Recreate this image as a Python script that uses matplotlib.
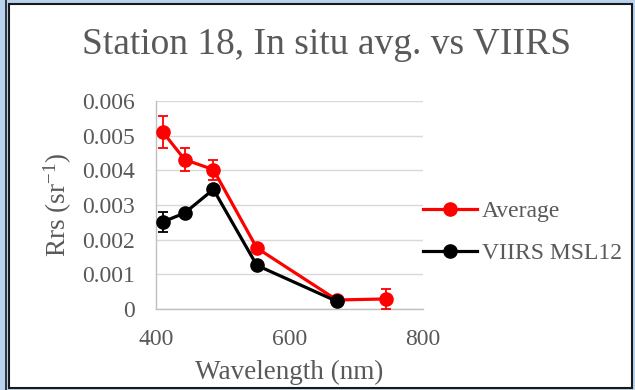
import matplotlib

matplotlib.use("Agg")
import matplotlib.pyplot as plt
from matplotlib.lines import Line2D
from matplotlib.patches import Rectangle

# values
wavelength_avg = [410, 443, 486, 551, 671, 745]
rrs_avg = [0.00511, 0.00431, 0.00402, 0.00176, 0.00026, 0.00029]
err_avg = [0.00047, 0.00032, 0.00029, 0.00010, 0.00005, 0.00028]

wavelength_viirs = [410, 443, 486, 551, 671]
rrs_viirs = [0.00251, 0.00277, 0.00345, 0.00126, 0.00022]
err_viirs = [0.00028, 0.00010, 0.00010, 0.00005, 0.00003]

TEXT = "#595959"
plt.rcParams["font.family"] = ["Liberation Serif", "DejaVu Serif"]
plt.rcParams["mathtext.fontset"] = "custom"
plt.rcParams["mathtext.rm"] = "Liberation Serif"
plt.rcParams["mathtext.it"] = "Liberation Serif:italic"

fig = plt.figure(figsize=(6.35, 3.9), dpi=100)
fig.patch.set_facecolor("#b9d3ee")

# window frame around the chart
fig.patches.append(Rectangle((9 / 635, 2 / 390), 623 / 635, 384 / 390,
                             transform=fig.transFigure, facecolor="white",
                             edgecolor="#1a1a1a", lw=1.5, zorder=-1))
fig.lines.append(Line2D([6 / 635, 6 / 635], [0, 1], transform=fig.transFigure,
                        color="#1a1a1a", lw=1.2, zorder=-1))

ax = fig.add_axes([156 / 635, 81 / 390, 267 / 635, 208 / 390])
ax.set_facecolor("none")

style = dict(lw=2.3, marker="o", markersize=9.5, capsize=3.5,
             elinewidth=1.3, capthick=1.3)
ax.errorbar(wavelength_avg, rrs_avg, yerr=err_avg, color="#ff0000",
            zorder=3, **style)
ax.errorbar(wavelength_viirs, rrs_viirs, yerr=err_viirs, color="#000000",
            zorder=4, **style)

ax.set_xlim(400, 800)
ax.set_ylim(0, 0.006)
ax.set_xticks([400, 600, 800])
ax.set_yticks([0, 0.001, 0.002, 0.003, 0.004, 0.005, 0.006])
ax.set_yticklabels(["0", "0.001", "0.002", "0.003", "0.004", "0.005", "0.006"])
ax.grid(axis="y", color="#d9d9d9", lw=1)
ax.set_axisbelow(True)
ax.tick_params(axis="both", length=0, labelsize=17, labelcolor=TEXT)
ax.tick_params(axis="y", pad=15)
ax.tick_params(axis="x", pad=14.5)
for side in ("top", "right"):
    ax.spines[side].set_visible(False)
for side in ("left", "bottom"):
    ax.spines[side].set_color("#bfbfbf")
    ax.spines[side].set_linewidth(1)

ax.set_xlabel("Wavelength (nm)", fontsize=19.5, color=TEXT, labelpad=7)
ax.set_ylabel("Rrs (sr$^{-1}$)", fontsize=19.5, color=TEXT, labelpad=6)
fig.text(0.515, 0.884, "Station 18, In situ avg. vs VIIRS", fontsize=27,
         color=TEXT, ha="center", va="center")

handles = [Line2D([], [], color="#ff0000", lw=2.3, marker="o", markersize=9.5),
           Line2D([], [], color="#000000", lw=2.3, marker="o", markersize=9.5)]
ax.legend(handles, ["Average", "VIIRS MSL12"], loc="center left",
          bbox_to_anchor=(423 / 635, (390 - 232.5) / 390),
          bbox_transform=fig.transFigure, frameon=False, fontsize=17,
          handlelength=2.3, handletextpad=0.2, labelspacing=0.85,
          labelcolor=TEXT, borderaxespad=0, borderpad=0)

fig.savefig("out.png", dpi=100)
